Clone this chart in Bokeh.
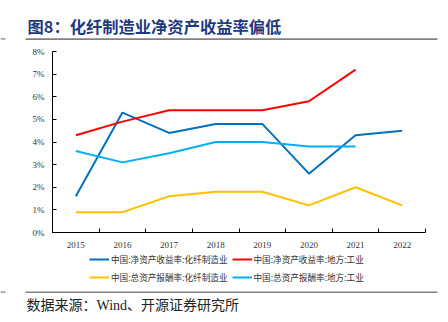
from bokeh.plotting import figure
from bokeh.layouts import column
from bokeh.models import (FixedTicker, Legend, LegendItem, Label, BoxAnnotation, Range1d,
                          CustomJSTickFormatter)
from bokeh.embed import file_html
from bokeh.resources import INLINE

years = ["2015", "2016", "2017", "2018", "2019", "2020", "2021", "2022"]
roe_fiber = [1.6, 5.3, 4.4, 4.8, 4.8, 2.6, 4.3, 4.5]
roe_local = [4.3, 4.9, 5.4, 5.4, 5.4, 5.8, 7.2]
roa_fiber = [0.9, 0.9, 1.6, 1.8, 1.8, 1.2, 2.0, 1.2]
roa_local = [3.6, 3.1, 3.5, 4.0, 4.0, 3.8, 3.8]
y_ticks = [0, 1, 2, 3, 4, 5, 6, 7, 8]
names = ["中国:净资产收益率:化纤制造业", "中国:净资产收益率:地方:工业",
         "中国:总资产报酬率:化纤制造业", "中国:总资产报酬率:地方:工业"]
colors = ["#0070C0", "#FF0000", "#FFC000", "#00B0F0"]
title_text = "图8：化纤制造业净资产收益率偏低"
source_text = "数据来源：Wind、开源证券研究所"

series = [roe_fiber, roe_local, roa_fiber, roa_local]
RULE = "#808080"
TICK_FONT = "Liberation Serif"
CJK = "Noto Sans CJK SC"


def blank(h):
    f = figure(width=448, height=h, output_backend="svg", toolbar_location=None,
               x_range=Range1d(0, 448), y_range=Range1d(h, 0),
               x_axis_type=None, y_axis_type=None, frame_align=False,
               min_border=0, min_border_left=0, min_border_right=0,
               min_border_top=0, min_border_bottom=0)
    f.outline_line_color = None
    f.grid.visible = False
    return f


def rule(f, y):
    f.add_layout(BoxAnnotation(left=25, right=437, top=y, bottom=y + 1.6,
                               fill_color=RULE, fill_alpha=1, line_color=None))
    f.add_layout(BoxAnnotation(left=0, right=5, top=y, bottom=y + 1.2,
                               fill_color=RULE, fill_alpha=1, line_color=None))


# ---- title band ----
top = blank(45)
top.add_layout(Label(x=27, y=25.5, text=title_text, text_font=CJK, text_font_style="bold",
                     text_font_size="16.3px", text_color="#1F3A7D", text_baseline="middle"))
rule(top, 37.8)

# ---- main chart ----
p = figure(width=448, height=205, output_backend="svg", toolbar_location=None,
           x_range=(-0.5, 7.5), y_range=(0, 8), frame_align=False,
           min_border_left=52, min_border_right=23, min_border_top=6, min_border_bottom=18)
p.outline_line_color = None
p.xgrid.visible = False
p.ygrid.visible = False

for vals, c in zip(series, colors):
    p.line(list(range(len(vals))), vals, line_color=c, line_width=2)

p.xaxis.ticker = FixedTicker(ticks=list(range(len(years))),
                             minor_ticks=[i - 0.5 for i in range(len(years) + 1)])
p.xaxis.major_label_overrides = {i: y for i, y in enumerate(years)}
p.xaxis.major_tick_line_color = None
p.xaxis.minor_tick_in = 4
p.xaxis.minor_tick_out = 0
p.xaxis.minor_tick_line_color = "#000000"
p.xaxis.axis_line_color = "#000000"
p.xaxis.major_label_standoff = 3

p.yaxis.ticker = FixedTicker(ticks=y_ticks)
p.yaxis.formatter = CustomJSTickFormatter(code="return tick + '%';")
p.yaxis.major_tick_in = 4
p.yaxis.major_tick_out = 0
p.yaxis.minor_tick_line_color = None
p.yaxis.axis_line_color = "#000000"
p.yaxis.major_tick_line_color = "#000000"
p.yaxis.major_label_standoff = 8

for ax in (p.xaxis, p.yaxis):
    ax.major_label_text_font = TICK_FONT
    ax.major_label_text_font_size = "9px"
    ax.major_label_text_color = "#333333"

# ---- legend band ----
leg = figure(width=448, height=35, output_backend="svg", toolbar_location=None,
             x_range=Range1d(-0.5, 7.5), y_range=Range1d(100, 101),
             x_axis_type=None, y_axis_type=None, frame_align=False,
             min_border=0, min_border_left=0, min_border_right=0,
             min_border_top=0, min_border_bottom=0)
leg.outline_line_color = None
leg.grid.visible = False
# same series, scrolled out of this band's view: only their legend swatches show
proxies = [leg.line(list(range(len(vals))), vals, line_color=c, line_width=2)
           for vals, c in zip(series, colors)]
legend = Legend(items=[LegendItem(label=n, renderers=[r]) for n, r in zip(names, proxies)],
                ncols=2, orientation="horizontal", location=(89, 1),
                label_text_font=CJK, label_text_font_size="8.6px",
                label_text_color="#333333", glyph_width=20, glyph_height=14,
                label_height=14, label_standoff=2, spacing=4, padding=0, margin=0,
                border_line_color=None, background_fill_alpha=0)
leg.add_layout(legend, "center")

# ---- source band ----
bot = blank(37)
rule(bot, 6)
bot.add_layout(Label(x=26, y=20, text=source_text,
                     text_font="'Liberation Serif', 'Noto Sans CJK SC'",
                     text_font_size="14px", text_color="#222222", text_baseline="middle"))

layout = column(top, p, leg, bot, spacing=0)
open("out.html", "w").write(file_html(layout, INLINE))
